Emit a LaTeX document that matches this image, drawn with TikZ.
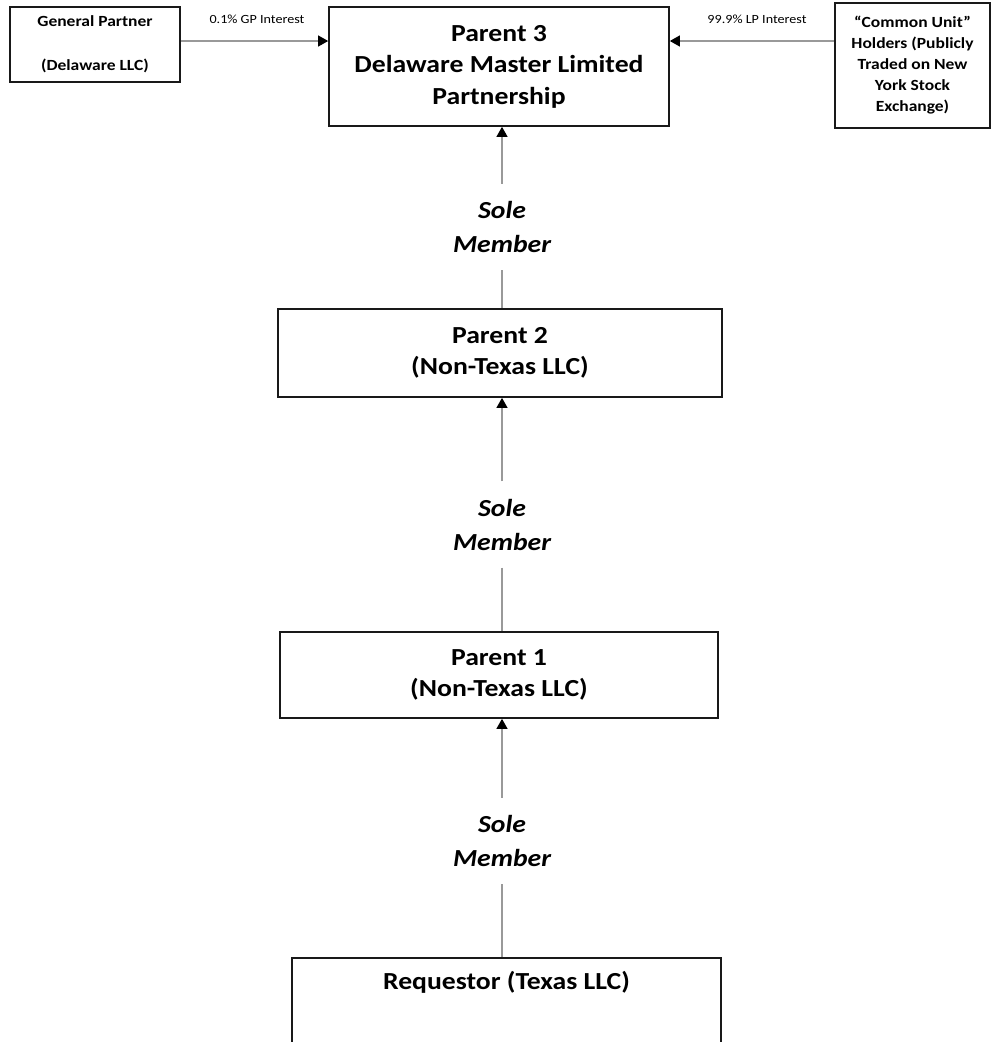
\documentclass[tikz,border=0pt]{standalone}
\usepackage{fontspec}
\setmainfont[FakeStretch=1.13]{Carlito}
\usetikzlibrary{arrows.meta}
\begin{document}
\begin{tikzpicture}[x=1pt,y=-1pt,
  box/.style={draw=black!90, line width=1.7pt, align=center, inner sep=0pt,
    font=\bfseries\fontsize{24.5}{31.5}\selectfont},
  smallbox/.style={draw=black!90, line width=1.7pt, align=center, inner sep=0pt,
    font=\bfseries\fontsize{15.5}{21}\selectfont},
  sole/.style={align=center, inner sep=0pt, minimum height=86pt,
    font=\bfseries\itshape\fontsize{24.5}{34}\selectfont},
  elabel/.style={inner sep=0pt, font=\fontsize{12.5}{14}\selectfont},
  conn/.style={draw=black!40, line width=1.1pt},
  arr/.style={conn, -{Triangle[length=10pt,width=11pt,black]}}]
\useasboundingbox (0,0) rectangle (995,1042);
\clip (0,0) rectangle (995,1042);

% boxes
\node[smallbox, minimum width=170pt, minimum height=75pt, font=\bfseries\fontsize{15.5}{44}\selectfont]
  (gp) at (95,44.5) {General Partner\\(Delaware LLC)};
\node[box, minimum width=340pt, minimum height=119pt] (p3) at (499,66.5)
  {Parent 3\\Delaware Master Limited\\Partnership};
\node[smallbox, minimum width=155pt, minimum height=125pt] (cu) at (912.5,65.5)
  {``Common Unit''\\Holders (Publicly\\Traded on New\\York Stock\\Exchange)};
\node[box, minimum width=444pt, minimum height=88pt] (p2) at (500,353)
  {Parent 2\\(Non-Texas LLC)};
\node[box, minimum width=438pt, minimum height=86pt] (p1) at (499,675)
  {Parent 1\\(Non-Texas LLC)};
\node[box, minimum width=429pt, minimum height=113pt, anchor=north,
  label={[anchor=center, yshift=-25pt, font=\bfseries\fontsize{24.5}{31}\selectfont]north:Requestor (Texas LLC)}]
  (req) at (506.5,957) {};

% horizontal interests
\coordinate (ly) at (0,41);
\node[elabel] (gpl) at (257,19) {0.1\% GP Interest};
\node[elabel] (lpl) at (757,19) {99.9\% LP Interest};
\draw[arr] (gp.east |- ly) -- (p3.west |- ly);
\draw[arr] (cu.west |- ly) -- (p3.east |- ly);

% sole member links
\node[sole] (sm1) at (502,227) {Sole\\Member};
\node[sole] (sm2) at (502,524.5) {Sole\\Member};
\node[sole] (sm3) at (502,841) {Sole\\Member};

\draw[arr] (sm1.north) -- (sm1.north |- p3.south);
\draw[conn] (sm1.south) -- (sm1.south |- p2.north);
\draw[arr] (sm2.north) -- (sm2.north |- p2.south);
\draw[conn] (sm2.south) -- (sm2.south |- p1.north);
\draw[arr] (sm3.north) -- (sm3.north |- p1.south);
\draw[conn] (sm3.south) -- (sm3.south |- req.north);
\end{tikzpicture}
\end{document}
